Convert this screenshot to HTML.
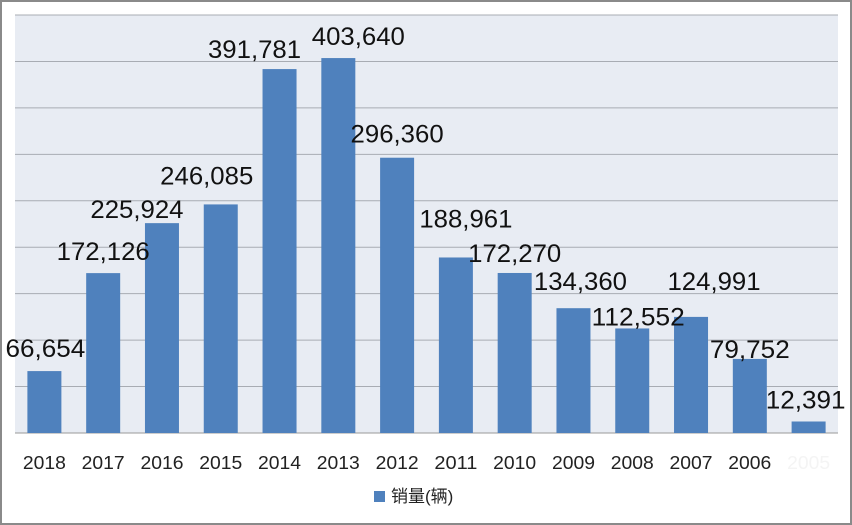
<!DOCTYPE html>
<html><head><meta charset="utf-8"><style>
body{margin:0;background:#fff;}
svg{display:block;font-family:"Liberation Sans","Noto Sans CJK SC",sans-serif;}
</style></head><body>
<svg id="c" width="852" height="525">
<rect x="1" y="1" width="850" height="523" fill="#fff" stroke="#8a8a8a" stroke-width="2"/>
<rect x="15" y="15" width="823" height="418" fill="#e8ecf3"/>
<g id="grid"></g><g id="bars"></g><g id="labels"></g><g id="xt"></g>
<rect x="374" y="491" width="11" height="11" fill="#4f81bd"/>
<text x="391" y="502" font-size="17" fill="#222">销量(辆)</text>
</svg>
<script>
const categories=["2018","2017","2016","2015","2014","2013","2012","2011","2010","2009","2008","2007","2006","2005"];
const sales=[66654,172126,225924,246085,391781,403640,296360,188961,172270,134360,112552,124991,79752,12391];
const gridTicks=[0,50000,100000,150000,200000,250000,300000,350000,400000,450000];
// label placement nudges (layout only)
const labelDx=[1,0,-25,-14,-25,20,0,10,0,7,6,23,0,-3];
const labelDy=[-14,-13,-5,-20,-11,-13,-15,-30,-11,-18,-3,-27,-1,-13];
const NS="http://www.w3.org/2000/svg";
const L=15,R=838,T=15,B=433,MAX=450000;
const y=v=>B-v/MAX*(B-T);
const step=(R-L)/categories.length;
const x=i=>L+step*(i+0.5);
function mk(tag,attrs,parent,txt){const e=document.createElementNS(NS,tag);for(const k in attrs)e.setAttribute(k,attrs[k]);if(txt!=null)e.textContent=txt;document.getElementById(parent).appendChild(e);return e;}
gridTicks.forEach(t=>{
 const g=mk('line',{x1:L,x2:R,y1:y(t),y2:y(t),stroke:t===0?'#9a9a9a':'#a8acb3','stroke-width':1},'grid');
 
 
});
sales.forEach((v,i)=>{
 const b=mk('rect',{x:x(i)-17,y:y(v),width:34,height:B-y(v),fill:'#4f81bd'},'bars');
 
 
 const s=v.toLocaleString('en-US');
 const lb=mk('text',{x:x(i)+labelDx[i],y:y(v)+labelDy[i],'text-anchor':'middle','font-size':25,fill:'#111',textLength:s.length*13.3,lengthAdjust:'spacingAndGlyphs'},'labels',s);
 
 
 const t=mk('text',{x:x(i),y:469,'text-anchor':'middle','font-size':18,fill:i===categories.length-1?'#f4f4f4':'#222',textLength:43,lengthAdjust:'spacingAndGlyphs'},'xt',categories[i]);
 
 
});
</script>
</body></html>
